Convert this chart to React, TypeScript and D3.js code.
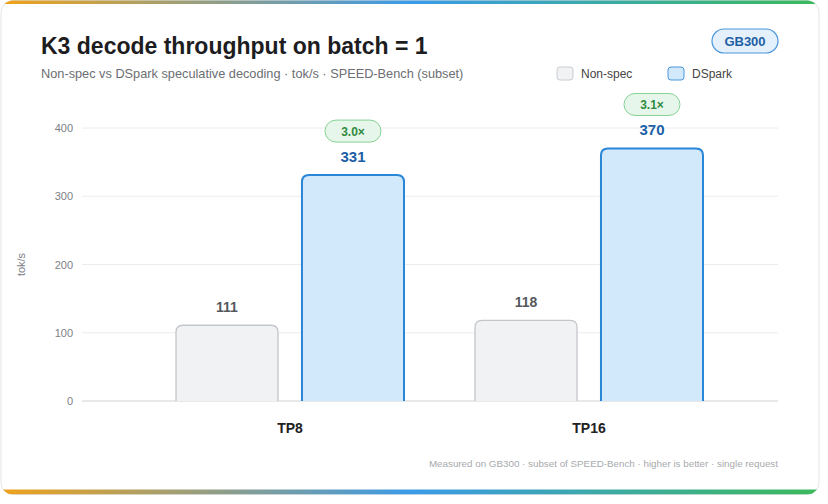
import React, { useEffect, useRef } from 'react';
import * as d3 from 'd3';

const categories = ['TP8', 'TP16'];
const seriesNames = ['Non-spec', 'DSpark'];
const nonSpec = [111, 118];
const dspark = [331, 370];
const speedups = ['3.0×', '3.1×'];
const yTicks = [0, 100, 200, 300, 400];

const App = () => {
  const svgRef = useRef<SVGSVGElement | null>(null);

  useEffect(() => {
    const root = d3.select(svgRef.current);
    root.selectAll('*').remove();

    const W = 828;
    const H = 504;
    const font = '"Liberation Sans", Arial, Helvetica, sans-serif';
    root.attr('width', W).attr('height', H).style('font-family', font);

    const defs = root.append('defs');
    const grad = defs
      .append('linearGradient')
      .attr('id', 'edge')
      .attr('x1', '0%')
      .attr('x2', '100%');
    grad.append('stop').attr('offset', '0%').attr('stop-color', '#f0a21a');
    grad.append('stop').attr('offset', '50%').attr('stop-color', '#3b9be8');
    grad.append('stop').attr('offset', '100%').attr('stop-color', '#3cba5a');
    defs
      .append('clipPath')
      .attr('id', 'card')
      .append('rect')
      .attr('x', 1)
      .attr('y', 0.5)
      .attr('width', 818)
      .attr('height', 494)
      .attr('rx', 12);

    // card
    root
      .append('rect')
      .attr('x', 1)
      .attr('y', 0.5)
      .attr('width', 818)
      .attr('height', 494)
      .attr('rx', 12)
      .attr('fill', '#fff')
      .attr('stroke', '#e3e5e8');
    const edges = root.append('g').attr('clip-path', 'url(#card)');
    edges.append('rect').attr('x', 0).attr('y', 0).attr('width', 822).attr('height', 4).attr('fill', 'url(#edge)');
    edges.append('rect').attr('x', 0).attr('y', 489.5).attr('width', 822).attr('height', 5).attr('fill', 'url(#edge)');

    // header
    root
      .append('text')
      .attr('x', 41)
      .attr('y', 54)
      .attr('font-size', 23)
      .attr('font-weight', 700)
      .attr('fill', '#1d1d1f')
      .text('K3 decode throughput on batch = 1');
    root
      .append('text')
      .attr('x', 41)
      .attr('y', 78)
      .attr('font-size', 12.75)
      .attr('fill', '#6b6e72')
      .text('Non-spec vs DSpark speculative decoding · tok/s · SPEED-Bench (subset)');

    // GB300 pill
    root
      .append('rect')
      .attr('x', 712)
      .attr('y', 29)
      .attr('width', 66)
      .attr('height', 24)
      .attr('rx', 12)
      .attr('fill', '#e4f1fc')
      .attr('stroke', '#4a95da')
      .attr('stroke-width', 1.2);
    root
      .append('text')
      .attr('x', 745)
      .attr('y', 45.5)
      .attr('text-anchor', 'middle')
      .attr('font-size', 13)
      .attr('font-weight', 700)
      .attr('fill', '#1f5fa3')
      .text('GB300');

    const fills = ['#f1f2f4', '#d2e9fc'];
    const strokes = ['#c3c6ca', '#2a86d6'];

    // legend
    const legendX = [557, 668];
    seriesNames.forEach((name, i) => {
      root
        .append('rect')
        .attr('x', legendX[i])
        .attr('y', 67)
        .attr('width', 16)
        .attr('height', 13)
        .attr('rx', 3)
        .attr('fill', fills[i])
        .attr('stroke', i === 0 ? '#c9ccd0' : '#4a95da');
      root
        .append('text')
        .attr('x', legendX[i] + 24)
        .attr('y', 78)
        .attr('font-size', 12)
        .attr('fill', '#444')
        .text(name);
    });

    // scales
    const y = d3.scaleLinear().domain([0, 400]).range([401, 128]);
    const x = d3.scaleBand().domain(categories).range([140.5, 738.5]).padding(0);
    const xs = d3.scaleBand().domain(seriesNames).range([-114, 114]).paddingInner(0.19);

    // grid
    const g = root.append('g');
    g.selectAll('.grid')
      .data(yTicks)
      .join('line')
      .attr('x1', 82)
      .attr('x2', 778)
      .attr('y1', (d) => y(d))
      .attr('y2', (d) => y(d))
      .attr('stroke', (d) => (d === 0 ? '#cfd2d6' : '#ececee'))
      .attr('stroke-width', 1);
    g.selectAll('.tick')
      .data(yTicks)
      .join('text')
      .attr('x', 73)
      .attr('y', (d) => y(d) + 4)
      .attr('text-anchor', 'end')
      .attr('font-size', 11)
      .attr('fill', '#7d8085')
      .text((d) => d);
    root
      .append('text')
      .attr('transform', `translate(25, ${y(200)}) rotate(-90)`)
      .attr('text-anchor', 'middle')
      .attr('font-size', 11)
      .attr('fill', '#7d8085')
      .text('tok/s');

    // bars: path with rounded top corners
    const barPath = (x0: number, w: number, top: number, bottom: number, r: number) =>
      `M${x0},${bottom}V${top + r}Q${x0},${top} ${x0 + r},${top}H${x0 + w - r}Q${x0 + w},${top} ${x0 + w},${top + r}V${bottom}`;

    const data = categories.flatMap((c, i) => [
      { cat: c, s: 0, v: nonSpec[i] },
      { cat: c, s: 1, v: dspark[i], sp: speedups[i] },
    ]);

    const bars = root.append('g');
    data.forEach((d) => {
      const cx = (x(d.cat) as number) + x.bandwidth() / 2;
      const bx = cx + (xs(seriesNames[d.s]) as number);
      const bw = xs.bandwidth();
      const top = y(d.v);
      bars
        .append('path')
        .attr('d', barPath(bx, bw, top, y(0), 7))
        .attr('fill', fills[d.s])
        .attr('stroke', strokes[d.s])
        .attr('stroke-width', d.s === 1 ? 2 : 1.3);
      bars
        .append('text')
        .attr('x', bx + bw / 2)
        .attr('y', top - 13)
        .attr('text-anchor', 'middle')
        .attr('font-size', d.s === 1 ? 15 : 14)
        .attr('font-weight', 700)
        .attr('fill', d.s === 1 ? '#1d5fa6' : '#55585d')
        .text(d.v);
      if (d.sp) {
        bars
          .append('rect')
          .attr('x', bx + bw / 2 - 28)
          .attr('y', top - 55)
          .attr('width', 56)
          .attr('height', 22)
          .attr('rx', 11)
          .attr('fill', '#e7f6ea')
          .attr('stroke', '#86d394');
        bars
          .append('text')
          .attr('x', bx + bw / 2)
          .attr('y', top - 39.5)
          .attr('text-anchor', 'middle')
          .attr('font-size', 12)
          .attr('font-weight', 700)
          .attr('fill', '#2e8a3e')
          .text(d.sp);
      }
    });

    // category labels
    root
      .append('g')
      .selectAll('text')
      .data(categories)
      .join('text')
      .attr('x', (d) => (x(d) as number) + x.bandwidth() / 2)
      .attr('y', 433)
      .attr('text-anchor', 'middle')
      .attr('font-size', 14)
      .attr('font-weight', 700)
      .attr('fill', '#222')
      .text((d) => d);

    // footer
    root
      .append('text')
      .attr('x', 778)
      .attr('y', 467)
      .attr('text-anchor', 'end')
      .attr('font-size', 9.8)
      .attr('fill', '#a7aaae')
      .text('Measured on GB300 · subset of SPEED-Bench · higher is better · single request');
  }, []);

  return <svg ref={svgRef} style={{ position: 'absolute', left: 0, top: 0 }}></svg>;
};

export default App;
